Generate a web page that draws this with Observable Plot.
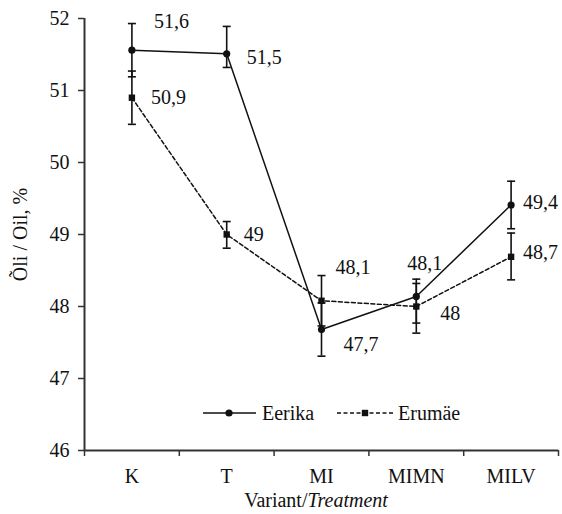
<!DOCTYPE html>
<html lang="et">
<head>
<meta charset="utf-8">
<script src="https://cdn.jsdelivr.net/npm/d3@7"></script>
<script src="https://cdn.jsdelivr.net/npm/@observablehq/plot@0.6"></script>
</head>
<body style="margin:0;background:#fff;font-family:'Liberation Serif','Times New Roman',Tinos,serif;">
<div id="chart" style="width:562px;height:492px;"></div>
<div id="caption" style="width:562px;box-sizing:border-box;padding-left:70px;height:22px;line-height:22px;margin-top:-3px;text-align:center;font-family:'Liberation Serif','Times New Roman',Tinos,serif;font-size:20px;color:#111;">Variant/<i>Treatment</i></div>
<script>
// ---- data ----
const categories = ["K", "T", "MI", "MIMN", "MILV"];
const eerika     = [51.56, 51.51, 47.68, 48.14, 49.41];
const eerikaLow  = [51.19, 51.32, 47.31, 47.77, 49.08];
const eerikaHigh = [51.93, 51.89, 48.05, 48.32, 49.74];
const erumae     = [50.90, 49.00, 48.08, 48.00, 48.69];
const erumaeLow  = [50.53, 48.81, 47.73, 47.63, 48.37];
const erumaeHigh = [51.27, 49.18, 48.43, 48.38, 49.02];
const eerikaLabels = ["51,6", "51,5", "47,7", "48,1", "49,4"];
const erumaeLabels = ["50,9", "49", "48,1", "48", "48,7"];
const yTicks = [46, 47, 48, 49, 50, 51, 52];
const seriesNames = ["Eerika", "Erum\u00E4e"];
const yTitle = "\u00D5li / Oil, %";

// label offsets (styling, px)
const eerikaOffsets = [[22, -29], [20, 4], [22, 15], [-9, -33], [12, -2]];
const erumaeOffsets = [[19, 0], [17, 0], [14, -33], [24, 7], [12, -4]];

const rowsE = categories.map((c, i) => ({x: i + 0.5, y: eerika[i], lo: eerikaLow[i], hi: eerikaHigh[i], label: eerikaLabels[i]}));
const rowsR = categories.map((c, i) => ({x: i + 0.5, y: erumae[i], lo: erumaeLow[i], hi: erumaeHigh[i], label: erumaeLabels[i]}));

const capSymbol = {
  draw(context, size) {
    const w = Math.sqrt(size / Math.PI);
    context.moveTo(-w, 0);
    context.lineTo(w, 0);
  }
};

const FONT = "'Liberation Serif', 'Times New Roman', Tinos, serif";
const ink = "#111";

const labelMarks = [];
rowsE.forEach((d, i) => labelMarks.push(Plot.text([d], {x: "x", y: "y", text: "label", dx: eerikaOffsets[i][0], dy: eerikaOffsets[i][1], textAnchor: "start", fill: ink})));
rowsR.forEach((d, i) => labelMarks.push(Plot.text([d], {x: "x", y: "y", text: "label", dx: erumaeOffsets[i][0], dy: erumaeOffsets[i][1], textAnchor: "start", fill: ink})));

const chart = Plot.plot({
  width: 562,
  height: 492,
  marginLeft: 84,
  marginRight: 4,
  marginTop: 18,
  marginBottom: 42,
  style: {fontFamily: FONT, fontSize: "20px", color: ink, background: "#fff"},
  x: {domain: [0, 5]},
  y: {domain: [46, 52]},
  marks: [
    Plot.axisY({ticks: yTicks, tickSize: 6, tickPadding: 9, tickFormat: d => String(d),
                label: yTitle, labelAnchor: "center", labelArrow: "none", labelOffset: 72,
                stroke: "#333", strokeWidth: 1.5}),
    Plot.axisX({ticks: d3.range(0, 6), tickSize: 6, tickFormat: () => "", label: null, stroke: "#333", strokeWidth: 1.5}),
    Plot.axisX({ticks: categories.map((_, i) => i + 0.5), tickSize: 0, tickPadding: 18,
                tickFormat: d => categories[Math.floor(d)], label: null}),
    Plot.ruleY([46], {stroke: "#333", strokeWidth: 2}),
    Plot.ruleX([0], {y1: 46, y2: 52, stroke: "#333", strokeWidth: 2}),
    // error bars
    Plot.ruleX(rowsE, {x: "x", y1: "lo", y2: "hi", stroke: ink, strokeWidth: 1.6}),
    Plot.ruleX(rowsR, {x: "x", y1: "lo", y2: "hi", stroke: ink, strokeWidth: 1.6}),
    Plot.dot(rowsE, {x: "x", y: "lo", symbol: capSymbol, r: 4, stroke: ink, strokeWidth: 1.6, fill: "none"}),
    Plot.dot(rowsE, {x: "x", y: "hi", symbol: capSymbol, r: 4, stroke: ink, strokeWidth: 1.6, fill: "none"}),
    Plot.dot(rowsR, {x: "x", y: "lo", symbol: capSymbol, r: 4, stroke: ink, strokeWidth: 1.6, fill: "none"}),
    Plot.dot(rowsR, {x: "x", y: "hi", symbol: capSymbol, r: 4, stroke: ink, strokeWidth: 1.6, fill: "none"}),
    // lines
    Plot.line(rowsE, {x: "x", y: "y", stroke: ink, strokeWidth: 1.5}),
    Plot.line(rowsR, {x: "x", y: "y", stroke: ink, strokeWidth: 1.5, strokeDasharray: "4,2.5"}),
    Plot.dot(rowsE, {x: "x", y: "y", r: 3.6, fill: ink, stroke: "none"}),
    Plot.dot(rowsR, {x: "x", y: "y", symbol: "square", r: 3.6, fill: ink, stroke: "none"}),
    ...labelMarks
  ]
});

document.getElementById("chart").appendChild(chart);

// legend inside the plot area
const svg = d3.select(chart);
const lg = svg.append("g").attr("font-family", FONT).attr("font-size", 20).attr("fill", ink).attr("text-anchor", "start");
const ly = 413;
lg.append("line").attr("x1", 203).attr("x2", 256).attr("y1", ly).attr("y2", ly).attr("stroke", ink).attr("stroke-width", 1.5);
lg.append("circle").attr("cx", 229).attr("cy", ly).attr("r", 3.6).attr("fill", ink);
lg.append("text").attr("x", 262).attr("y", ly).attr("dy", "0.35em").text(seriesNames[0]);
lg.append("line").attr("x1", 337).attr("x2", 393).attr("y1", ly).attr("y2", ly).attr("stroke", ink).attr("stroke-width", 1.5).attr("stroke-dasharray", "4,2.5");
lg.append("rect").attr("x", 365 - 3.2).attr("y", ly - 3.2).attr("width", 6.4).attr("height", 6.4).attr("fill", ink);
lg.append("text").attr("x", 398).attr("y", ly).attr("dy", "0.35em").text(seriesNames[1]);
</script>
</body>
</html>
